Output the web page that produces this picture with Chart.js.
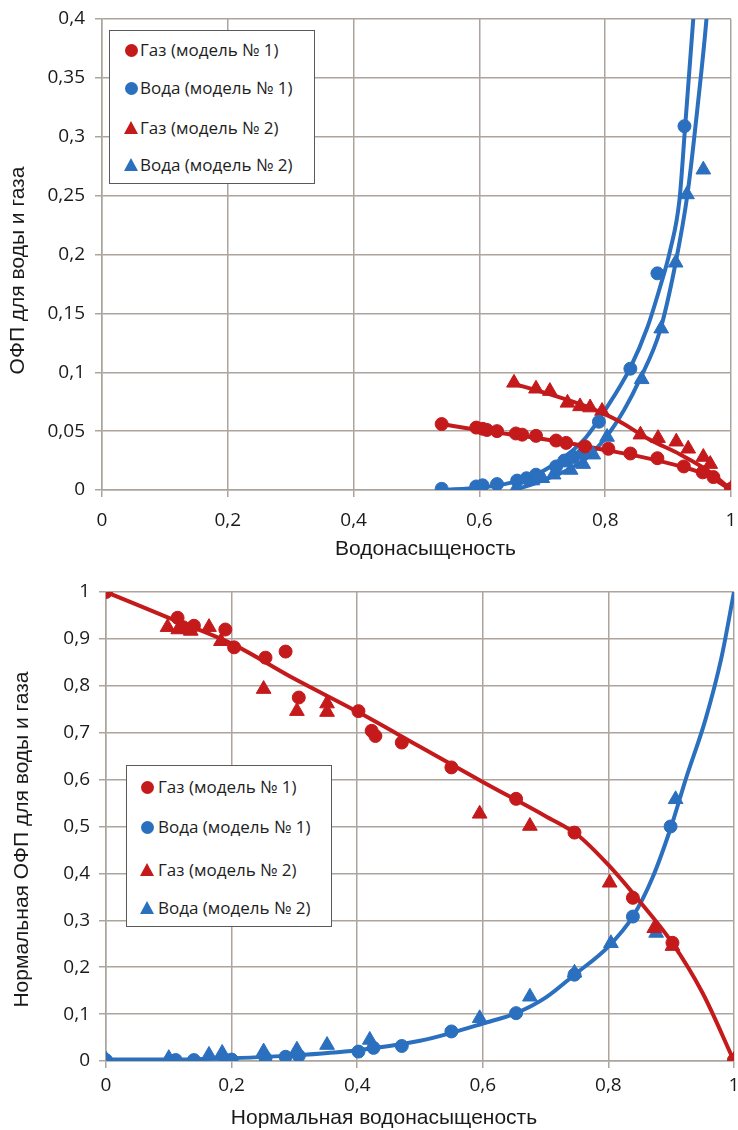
<!DOCTYPE html>
<html><head><meta charset="utf-8">
<script src="https://cdn.jsdelivr.net/npm/chart.js@4.4.1/dist/chart.umd.min.js"></script>
<style>
html,body{margin:0;padding:0;background:#fff;overflow:hidden;}
.wrap{position:relative;width:738px;height:565px;}
canvas{display:block;}
.legend{position:absolute;background:#fff;border:1.5px solid #5a5a5a;box-sizing:border-box;font-family:"Open Sans",sans-serif;font-size:17px;color:#1e1e1e;}
.row{position:absolute;white-space:nowrap;line-height:22px;height:22px;}
.mk{position:absolute;}
.circle{width:13px;height:13px;border-radius:50%;}
.tri{width:0;height:0;border-left:7.5px solid transparent;border-right:7.5px solid transparent;border-bottom-width:13px;border-bottom-style:solid;}
</style></head>
<body>
<div class="wrap"><canvas id="c1" width="738" height="565"></canvas><div class="legend" id="lg1"></div></div>
<div class="wrap"><canvas id="c2" width="738" height="565"></canvas><div class="legend" id="lg2"></div></div>
<script>
// ---------- labels ----------
const legendLabels = ['Газ (модель № 1)', 'Вода (модель № 1)', 'Газ (модель № 2)', 'Вода (модель № 2)'];
const topXTitle = 'Водонасыщеность';
const topYTitle = 'ОФП для воды и газа';
const botXTitle = 'Нормальная водонасыщеность';
const botYTitle = 'Нормальная ОФП для воды и газа';

// ---------- top chart data ----------
const topGas1X = [0.54, 0.595, 0.605, 0.612, 0.628, 0.658, 0.668, 0.69, 0.722, 0.738, 0.768, 0.805, 0.84, 0.883, 0.925, 0.955, 0.972, 1.0];
const topGas1Y = [0.056, 0.053, 0.052, 0.051, 0.050, 0.048, 0.047, 0.046, 0.042, 0.040, 0.037, 0.035, 0.031, 0.027, 0.020, 0.015, 0.011, 0.001];
const topWater1X = [0.54, 0.595, 0.605, 0.628, 0.66, 0.675, 0.69, 0.722, 0.735, 0.75, 0.765, 0.79, 0.84, 0.883, 0.926];
const topWater1Y = [0.001, 0.003, 0.004, 0.005, 0.008, 0.010, 0.013, 0.020, 0.025, 0.028, 0.031, 0.058, 0.103, 0.184, 0.309];
const topGas2X = [0.655, 0.69, 0.712, 0.74, 0.76, 0.776, 0.795, 0.856, 0.884, 0.913, 0.932, 0.956, 0.967, 1.0];
const topGas2Y = [0.091, 0.086, 0.084, 0.074, 0.071, 0.070, 0.067, 0.047, 0.044, 0.041, 0.035, 0.028, 0.022, 0.001];
const topWater2X = [0.657, 0.684, 0.70, 0.718, 0.745, 0.765, 0.781, 0.803, 0.858, 0.889, 0.912, 0.93, 0.956];
const topWater2Y = [0.0, 0.008, 0.010, 0.013, 0.017, 0.022, 0.030, 0.045, 0.094, 0.137, 0.193, 0.251, 0.272];
// fitted curves
const topGas1CurveX = [0.54, 0.61, 0.68, 0.75, 0.80, 0.85, 0.92, 0.96, 1.0];
const topGas1CurveY = [0.056, 0.050, 0.045, 0.039, 0.034, 0.029, 0.020, 0.013, 0.0];
const topGas2CurveX = [0.65, 0.72, 0.77, 0.82, 0.87, 0.92, 0.97, 1.0];
const topGas2CurveY = [0.091, 0.080, 0.071, 0.059, 0.043, 0.030, 0.014, 0.0];
const topWater1CurveX = [0.54, 0.60, 0.64, 0.69, 0.74, 0.77, 0.80, 0.84, 0.867, 0.887, 0.903, 0.918, 0.927, 0.94, 0.948];
const topWater1CurveY = [0.0, 0.002, 0.005, 0.013, 0.030, 0.045, 0.068, 0.104, 0.138, 0.172, 0.203, 0.246, 0.308, 0.40, 0.46];
const topWater2CurveX = [0.657, 0.70, 0.74, 0.77, 0.80, 0.83, 0.856, 0.887, 0.912, 0.931, 0.948, 0.961, 0.968];
const topWater2CurveY = [0.0, 0.008, 0.017, 0.027, 0.044, 0.068, 0.095, 0.135, 0.193, 0.252, 0.331, 0.40, 0.45];

// ---------- bottom chart data ----------
const botGas1X = [0, 0.114, 0.123, 0.14, 0.19, 0.204, 0.254, 0.286, 0.307, 0.402, 0.423, 0.429, 0.471, 0.55, 0.653, 0.746, 0.839, 0.902, 1.0];
const botGas1Y = [1.0, 0.945, 0.925, 0.928, 0.92, 0.882, 0.86, 0.873, 0.775, 0.746, 0.704, 0.693, 0.679, 0.626, 0.559, 0.487, 0.348, 0.252, 0.002];
const botWater1X = [0, 0.111, 0.14, 0.19, 0.2, 0.254, 0.286, 0.307, 0.402, 0.426, 0.471, 0.55, 0.653, 0.746, 0.839, 0.899];
const botWater1Y = [0.002, 0.002, 0.002, 0.002, 0.003, 0.006, 0.009, 0.011, 0.020, 0.028, 0.032, 0.063, 0.102, 0.184, 0.308, 0.50];
const botGas2X = [0.098, 0.115, 0.135, 0.164, 0.183, 0.251, 0.304, 0.352, 0.352, 0.595, 0.675, 0.802, 0.873, 0.902, 1.0];
const botGas2Y = [0.925, 0.92, 0.917, 0.925, 0.895, 0.793, 0.746, 0.762, 0.744, 0.527, 0.501, 0.38, 0.283, 0.245, 0.002];
const botWater2X = [0, 0.1, 0.164, 0.185, 0.251, 0.304, 0.352, 0.42, 0.595, 0.675, 0.746, 0.804, 0.876, 0.907];
const botWater2Y = [0.003, 0.006, 0.013, 0.017, 0.020, 0.024, 0.034, 0.045, 0.091, 0.137, 0.188, 0.251, 0.273, 0.558];
const botGasCurveX = [0, 0.1, 0.2, 0.3, 0.4, 0.5, 0.6, 0.7, 0.75, 0.8, 0.85, 0.9, 0.95, 1.0];
const botGasCurveY = [1.0, 0.945, 0.89, 0.815, 0.745, 0.67, 0.595, 0.522, 0.483, 0.418, 0.34, 0.255, 0.145, 0.0];
const botWaterCurveX = [0, 0.1, 0.2, 0.3, 0.4, 0.5, 0.55, 0.6, 0.653, 0.7, 0.746, 0.8, 0.839, 0.87, 0.9, 0.923, 0.955, 0.98, 1.0];
const botWaterCurveY = [0.003, 0.003, 0.006, 0.012, 0.023, 0.043, 0.060, 0.080, 0.102, 0.135, 0.184, 0.244, 0.308, 0.39, 0.50, 0.60, 0.73, 0.86, 1.0];

// ---------- styles ----------
const RED = '#c41a1c';
const BLUE = '#2b6fbf';
const GRID = '#aca49d';
const TEXT = '#1a1a1a';
const legendShapes = [['circle', RED], ['circle', BLUE], ['tri', RED], ['tri', BLUE]];

function pts(xs, ys) { return xs.map((x, i) => ({x: x, y: ys[i]})); }
function fmt(v) { const r = Math.round(v * 100) / 100; return String(r).replace('.', ','); }

function markerSet(label, xs, ys, color, style) {
  return {label: label, data: pts(xs, ys), showLine: false, pointStyle: style,
    pointRadius: style === 'triangle' ? 8.5 : 6.5, pointHoverRadius: 0,
    backgroundColor: color, borderColor: color, pointBorderWidth: 1, order: 0};
}
function curveSet(xs, ys, color) {
  return {label: '', data: pts(xs, ys), showLine: true, pointRadius: 0, borderColor: color,
    backgroundColor: color, borderWidth: 4, cubicInterpolationMode: 'monotone', fill: false, order: 1};
}

// axis titles drawn on the canvas at the reference's (slightly off-centre) positions
const axisTitles = {
  id: 'axisTitles',
  afterDraw(chart, args, o) {
    const ctx = chart.ctx, a = chart.chartArea;
    ctx.save();
    ctx.fillStyle = TEXT;
    ctx.font = o.size + 'px "Liberation Sans", Arial, sans-serif';
    ctx.textAlign = 'center';
    ctx.textBaseline = 'middle';
    ctx.fillText(o.xText, (a.left + a.right) / 2 + o.xDx, o.xY);
    ctx.translate(o.yX, (a.top + a.bottom) / 2 + o.yDy);
    ctx.rotate(-Math.PI / 2);
    ctx.fillText(o.yText, 0, 0);
    ctx.restore();
  }
};

function makeChart(id, datasets, c) {
  return new Chart(document.getElementById(id), {
    type: 'scatter',
    data: {datasets: datasets},
    plugins: [axisTitles],
    options: {
      responsive: false, animation: false, events: [],
      layout: {autoPadding: false, padding: {top: c.padTop, right: c.padRight, left: 0, bottom: 0}},
      plugins: {legend: {display: false}, tooltip: {enabled: false},
        axisTitles: {xText: c.xTitle, yText: c.yTitle, size: 21, xDx: c.xDx, xY: c.xY, yX: c.yX, yDy: c.yDy}},
      scales: {
        x: {type: 'linear', min: 0, max: 1,
          ticks: {stepSize: 0.2, callback: fmt, color: TEXT, padding: c.xTickPad, maxRotation: 0,
            font: {family: 'Open Sans', size: 19}},
          grid: {color: GRID, lineWidth: 1.5, tickLength: 7},
          border: {color: GRID, width: 1.5},
          title: {display: false},
          afterFit: function (s) { s.height = c.xH; s.paddingLeft = 0; s.paddingRight = 0; }
        },
        y: {type: 'linear', min: 0, max: c.yMax,
          ticks: {stepSize: c.yStep, callback: fmt, color: TEXT, padding: c.yTickPad,
            font: {family: 'Open Sans', size: 19}},
          grid: {color: GRID, lineWidth: 1.5, tickLength: 7},
          border: {color: GRID, width: 1.5},
          title: {display: false},
          afterFit: function (s) { s.width = c.yW; s.paddingTop = 0; s.paddingBottom = 0; }
        }
      }
    }
  });
}

makeChart('c1', [
  markerSet(legendLabels[0], topGas1X, topGas1Y, RED, 'circle'),
  markerSet(legendLabels[1], topWater1X, topWater1Y, BLUE, 'circle'),
  markerSet(legendLabels[2], topGas2X, topGas2Y, RED, 'triangle'),
  markerSet(legendLabels[3], topWater2X, topWater2Y, BLUE, 'triangle'),
  curveSet(topGas1CurveX, topGas1CurveY, RED),
  curveSet(topGas2CurveX, topGas2CurveY, RED),
  curveSet(topWater1CurveX, topWater1CurveY, BLUE),
  curveSet(topWater2CurveX, topWater2CurveY, BLUE)
], {padTop: 19, padRight: 7, xH: 75, yW: 102, yMax: 0.4, yStep: 0.05, xTickPad: 12, yTickPad: 10,
    xTitle: topXTitle, yTitle: topYTitle, xDx: 9, xY: 549, yX: 18, yDy: 16});

makeChart('c2', [
  markerSet(legendLabels[0], botGas1X, botGas1Y, RED, 'circle'),
  markerSet(legendLabels[1], botWater1X, botWater1Y, BLUE, 'circle'),
  markerSet(legendLabels[2], botGas2X, botGas2Y, RED, 'triangle'),
  markerSet(legendLabels[3], botWater2X, botWater2Y, BLUE, 'triangle'),
  curveSet(botGasCurveX, botGasCurveY, RED),
  curveSet(botWaterCurveX, botWaterCurveY, BLUE)
], {padTop: 27, padRight: 4, xH: 69, yW: 106, yMax: 1, yStep: 0.1, xTickPad: 6, yTickPad: 9,
    xTitle: botXTitle, yTitle: botYTitle, xDx: -36, xY: 553, yX: 22, yDy: 13});

// ---------- HTML legends ----------
function buildLegend(id, box, rows, mkX, txtX) {
  const el = document.getElementById(id);
  el.style.left = box[0] + 'px'; el.style.top = box[1] + 'px';
  el.style.width = box[2] + 'px'; el.style.height = box[3] + 'px';
  legendLabels.forEach((lab, i) => {
    const [shape, color] = legendShapes[i];
    const m = document.createElement('div');
    m.className = 'mk ' + shape;
    if (shape === 'circle') { m.style.background = color; m.style.left = (mkX - 6.5) + 'px'; m.style.top = (rows[i] - 6.5) + 'px'; }
    else { m.style.borderBottomColor = color; m.style.left = (mkX - 7.5) + 'px'; m.style.top = (rows[i] - 7) + 'px'; }
    el.appendChild(m);
    const t = document.createElement('div');
    t.className = 'row'; t.textContent = lab;
    t.style.left = txtX + 'px'; t.style.top = (rows[i] - 11) + 'px';
    el.appendChild(t);
  });
}
buildLegend('lg1', [109, 30, 206, 154], [19, 57, 97, 134], 21, 30);
buildLegend('lg2', [126, 200, 206, 162], [21, 61, 104, 142], 20, 31);
</script>
</body></html>
